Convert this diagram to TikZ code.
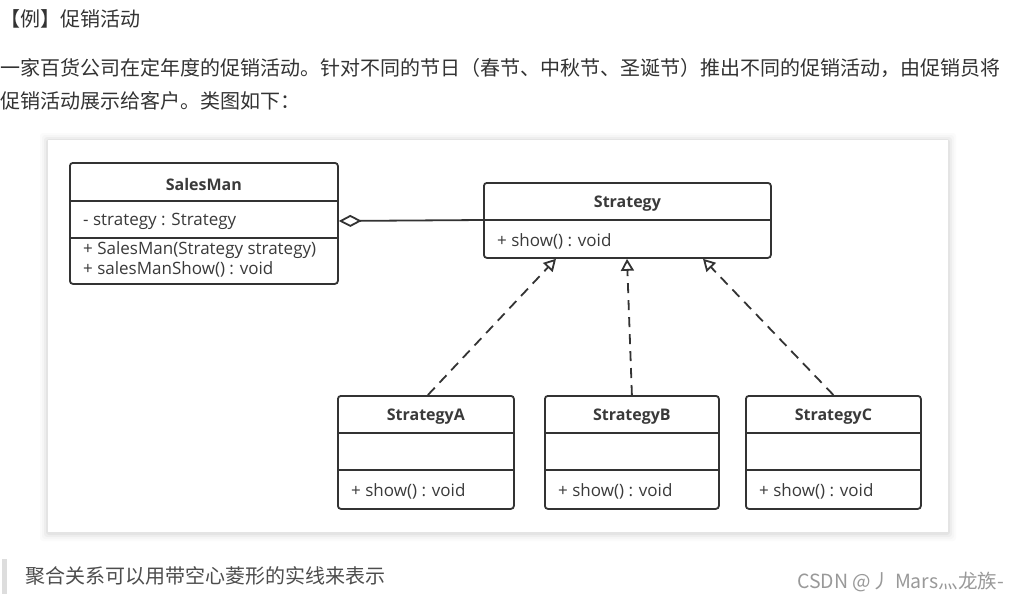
\documentclass[tikz,border=0pt]{standalone}
\usepackage{fontspec}
\setmainfont{Open Sans}
\newfontfamily\cjk{Noto Sans CJK SC}
\usetikzlibrary{arrows.meta,calc}
\definecolor{ink}{HTML}{333333}
\definecolor{txt}{HTML}{3A3A3A}
\definecolor{quote}{HTML}{4D4D4D}
\definecolor{wm}{HTML}{999999}
\definecolor{barc}{HTML}{DDDDDD}
\tikzset{
  cls/.style={draw=ink, line width=1.8pt, rounded corners=3pt, fill=white, inner sep=0pt, anchor=north west},
  sep/.style={draw=ink, line width=1.8pt},
  title/.style={font=\fontsize{16}{19}\selectfont\bfseries, text=txt, inner sep=0pt},
  member/.style={font=\fontsize{17}{20}\selectfont, text=txt, inner sep=0pt, anchor=west},
  realize/.style={draw=ink, line width=1.8pt, dash pattern=on 10pt off 7pt, -{Triangle[open, length=12pt, width=13pt, line width=1.8pt]}},
  aggr/.style={draw=ink, line width=1.8pt, {Diamond[open, length=23pt, width=12pt, line width=1.8pt]}-},
  cjktext/.style={font=\cjk\fontsize{20}{24}\selectfont, text=ink, inner sep=0pt, anchor=west}
}
\begin{document}
\begin{tikzpicture}[x=1pt,y=-1pt]
\useasboundingbox (0,0) rectangle (1010,602);
\fill[white] (0,0) rectangle (1010,602);
% header text
\node[cjktext] (h1) at (0,19) {【例】促销活动};
\node[cjktext] (h2) at (0,68) {一家百货公司在定年度的促销活动。针对不同的节日（春节、中秋节、圣诞节）推出不同的促销活动，由促销员将};
\node[cjktext] (h3) at (0,101) {促销活动展示给客户。类图如下：};
% panel with soft shadow
\foreach \d/\o in {8/0.015,6/0.02,4/0.03,2/0.04}{
  \fill[black, opacity=\o, rounded corners=3pt] (48-\d,140-\d+1) rectangle (948+\d,532+\d+1);
}
\fill[white] (48,140) rectangle (948,532);
% SalesMan
\node[cls, minimum width=268pt, minimum height=121pt] (sm) at (69,162) {};
\draw[sep] ($(sm.north west)+(0,39)$) -- ($(sm.north east)+(0,39)$);
\draw[sep] ($(sm.north west)+(0,76)$) -- ($(sm.north east)+(0,76)$);
\node[title] (smt) at ($(sm.north)+(0,22)$) {SalesMan};
\node[member] (sma) at ($(sm.north west)+(14,59)$) {- strategy : Strategy};
\node[member] (smm1) at ($(sm.north west)+(14,88)$) {+ SalesMan(Strategy strategy)};
\node[member] (smm2) at ($(sm.north west)+(14,107)$) {+ salesManShow() : void};
% Strategy
\node[cls, minimum width=287pt, minimum height=75pt] (st) at (483,182) {};
\draw[sep] ($(st.north west)+(0,38)$) -- ($(st.north east)+(0,38)$);
\node[title] (stt) at ($(st.north)+(0,22)$) {Strategy};
\node[member] (stm) at ($(st.north west)+(14,59)$) {+ show() : void};
% Concrete strategies
\node[cls, minimum width=176pt, minimum height=113pt] (sa) at (337,395) {};
\node[cls, minimum width=174pt, minimum height=113pt] (sb) at (544,395) {};
\node[cls, minimum width=175pt, minimum height=113pt] (sc) at (745,395) {};
\foreach \n/\t in {sa/StrategyA,sb/StrategyB,sc/StrategyC}{
  \draw[sep] ($(\n.north west)+(0,38)$) -- ($(\n.north east)+(0,38)$);
  \draw[sep] ($(\n.north west)+(0,75)$) -- ($(\n.north east)+(0,75)$);
  \node[title] (\n t) at ($(\n.north)+(0,22)$) {\t};
  \node[member] (\n m) at ($(\n.north west)+(14,96)$) {+ show() : void};
}
% connectors
\coordinate (smr) at ($(sm.north east)+(0,59)$);
\coordinate (stl) at ($(st.north west)+(0,38)$);
\draw[aggr] (smr) -- (stl);
\coordinate (ea) at ($(st.south west)+(73,0)$);
\coordinate (eb) at ($(st.south west)+(144,0)$);
\coordinate (ec) at ($(st.south west)+(220,0)$);
\coordinate (sa0) at ($(sa.north)+(2,0)$);
\draw[realize] (sa0) -- (ea);
\draw[realize] (sb.north) -- (eb);
\draw[realize] (sc.north) -- (ec);
% bottom quote
\fill[barc] (2,559) rectangle (7,594);
\node[cjktext, text=quote] (q) at (25,576) {聚合关系可以用带空心菱形的实线来表示};
\node[font=\cjk\fontsize{19.5}{23}\selectfont, text=wm, inner sep=0pt, anchor=east] (wmk) at (1004,582) {CSDN @丿 Mars灬龙族-};
\end{tikzpicture}
\end{document}
